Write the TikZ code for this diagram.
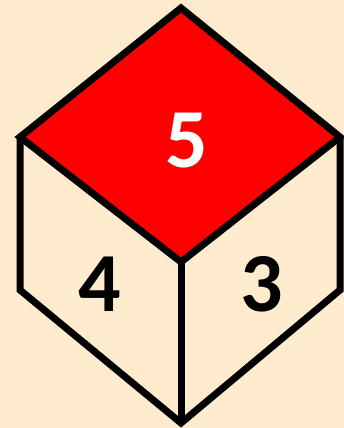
\documentclass[tikz,border=0pt]{standalone}
\usepackage{fontspec}
\newfontfamily\digitfont{Carlito}
\definecolor{bg}{RGB}{255,235,206}
\begin{document}
\begin{tikzpicture}[x=1pt,y=-1pt,
  edge/.style={draw=black,line width=7pt,line join=miter},
  digit/.style={font=\digitfont\bfseries\fontsize{84}{84}\selectfont,inner sep=0pt,anchor=center}]
\fill[bg] (0,0) rectangle (344,428);
\useasboundingbox (0,0) rectangle (344,428);
\coordinate (T) at (181,8);
\coordinate (L) at (20,137);
\coordinate (R) at (340,137);
\coordinate (C) at (181,262);
\coordinate (B) at (181,423);
\coordinate (BL) at (20,290);
\coordinate (BR) at (340,290);
\filldraw[edge,fill=red] (T) -- (R) -- (C) -- (L) -- cycle;
\draw[edge] (L) -- (BL) -- (B) -- (BR) -- (R);
\draw[edge] (C) -- (B);
\node[digit,text=white] (five) at (187,141) {5};
\node[digit,text=black] (four) at (100,284) {4};
\node[digit,text=black] (three) at (262,284) {3};
\end{tikzpicture}
\end{document}
